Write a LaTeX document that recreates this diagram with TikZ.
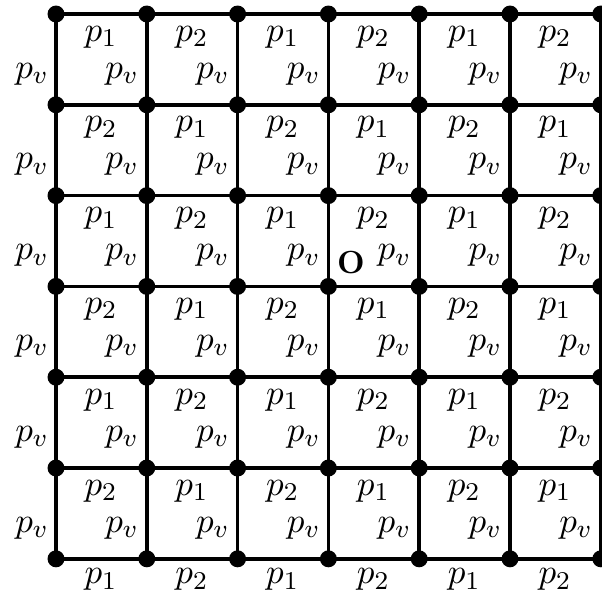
\documentclass[tikz,border=0pt]{standalone}
\begin{document}
\begin{tikzpicture}[x=0.3125pt,y=-0.3125pt,
  dotnode/.style={circle,fill=black,inner sep=0pt,minimum size=5.3pt},
  gridline/.style={line width=1.15pt},
  lbl/.style={inner sep=0pt,font=\fontsize{10.95}{13}\selectfont}]
\useasboundingbox (0,0) rectangle (602,597);
\def\s{90.8}
\foreach \i in {0,...,6}{
  \foreach \j in {0,...,6}{
    \coordinate (c-\i-\j) at ({56+\s*\i},{14+\s*\j});
  }
}
\foreach \j in {0,...,6}{
  \draw[gridline] (c-0-\j) -- (c-6-\j);
}
\foreach \i in {0,...,6}{
  \draw[gridline] (c-\i-0) -- (c-\i-6);
}
\foreach \i in {0,...,6}{
  \foreach \j in {0,...,6}{
    \node[dotnode] (d-\i-\j) at (c-\i-\j) {};
  }
}
% cell labels
\foreach \i in {0,...,5}{
  \foreach \j in {0,...,5}{
    \pgfmathtruncatemacro{\k}{mod(\i+\j,2)+1}
    \node[lbl] (t-\i-\j) at ({56+\s*\i+45},{14+\s*\j+23}) {$p_{\k}$};
    \node[lbl] (v-\i-\j) at ({56+\s*\i+66},{14+\s*\j+60}) {$p_v$};
  }
}
% left labels
\foreach \j in {0,...,5}{
  \node[lbl] (l-\j) at (32,{14+\s*\j+60}) {$p_v$};
}
% bottom labels
\foreach \i in {0,...,5}{
  \pgfmathtruncatemacro{\k}{mod(\i,2)+1}
  \node[lbl] (b-\i) at ({56+\s*\i+45},{14+\s*6+21}) {$p_{\k}$};
}
\node[inner sep=0pt,font=\normalsize\bfseries] (o) at (351,263) {O};
\end{tikzpicture}
\end{document}
